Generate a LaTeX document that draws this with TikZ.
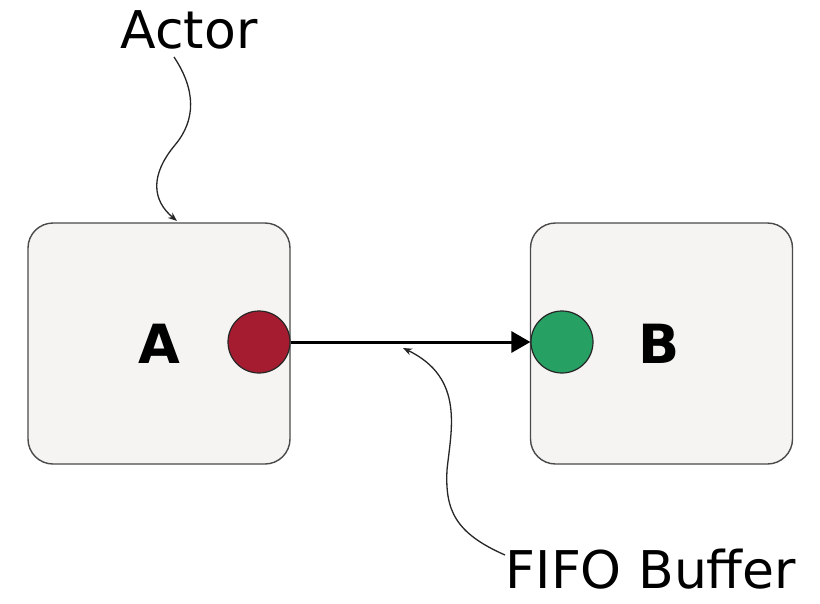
\documentclass[tikz,border=0pt]{standalone}
\usepackage{fontspec}
\setmainfont{DejaVu Sans}
\usetikzlibrary{arrows.meta}
\definecolor{boxfill}{HTML}{F5F4F2}
\definecolor{boxline}{HTML}{4A4A4A}
\definecolor{portred}{HTML}{A51C30}
\definecolor{portgreen}{HTML}{27A064}
\tikzset{
  actorbox/.style={draw=boxline, line width=1.4pt, fill=boxfill, rounded corners=25pt,
    minimum width=262pt, minimum height=241pt, inner sep=0pt},
  port/.style={circle, draw=black!85, line width=1.2pt, minimum size=62pt, inner sep=0pt},
  actorname/.style={font=\fontsize{54}{60}\selectfont\bfseries},
  callout/.style={font=\fontsize{52}{56}\selectfont, inner sep=0pt},
  pointer/.style={line width=1.3pt, draw=black!85, -{Stealth[length=9pt,width=7pt]}},
  flow/.style={line width=3pt, -{Triangle[length=19pt,width=21pt]}}
}
\begin{document}
\begin{tikzpicture}[x=1pt,y=-1pt]
  \useasboundingbox (0,0) rectangle (820,603);
  \fill[white] (0,0) rectangle (820,603);

  % actors
  \node[actorbox] (A) at (159,343.5) {};
  \node[actorbox] (B) at (661.5,343.5) {};
  \node[actorname] (Alabel) at (159,344) {A};
  \node[actorname] (Blabel) at (659,344) {B};

  % ports
  \node[port, fill=portred] (out) at (259,342) {};
  \node[port, fill=portgreen] (in) at (562,342) {};

  % channel
  \draw[flow] (out.east) -- (in.west);

  % callout labels
  \node[callout] (actor) at (189,30) {Actor};
  \node[callout] (fifo) at (651,569) {FIFO Buffer};

  \coordinate (actorstart) at (174,57);
  \coordinate (actortip) at (177,221);
  \coordinate (fifostart) at (505,555);
  \coordinate (fifotip) at (403,348);

  \draw[pointer] (actorstart) .. controls (196,90) and (196,120) .. (175,145)
                 .. controls (150,175) and (152,200) .. (actortip);
  \draw[pointer] (fifostart) .. controls (455,533) and (445,510) .. (447,470)
                 .. controls (451,430) and (465,378) .. (fifotip);
\end{tikzpicture}
\end{document}
